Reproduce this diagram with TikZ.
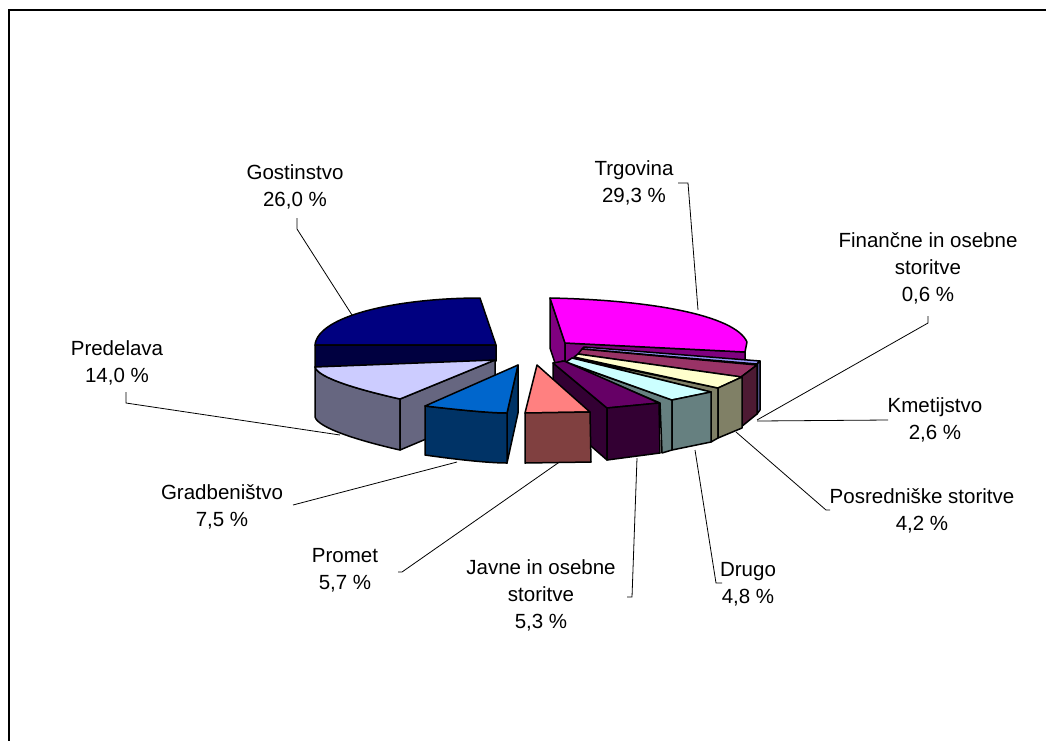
\documentclass[tikz,border=0pt]{standalone}
\usepackage{fontspec}
\setmainfont{Liberation Sans}
\definecolor{cGosT}{HTML}{000080}
\definecolor{cGosS}{HTML}{000040}
\definecolor{cPreT}{HTML}{CCCCFF}
\definecolor{cPreS}{HTML}{666680}
\definecolor{cGraT}{HTML}{0066CC}
\definecolor{cGraS}{HTML}{003366}
\definecolor{cProT}{HTML}{FF8080}
\definecolor{cProS}{HTML}{804040}
\definecolor{cJavT}{HTML}{660066}
\definecolor{cJavS}{HTML}{330033}
\definecolor{cDruT}{HTML}{CCFFFF}
\definecolor{cDruS}{HTML}{668080}
\definecolor{cPosT}{HTML}{FFFFCC}
\definecolor{cPosS}{HTML}{808066}
\definecolor{cKmeT}{HTML}{993366}
\definecolor{cKmeS}{HTML}{4D1A33}
\definecolor{cFinT}{HTML}{9999FF}
\definecolor{cFinS}{HTML}{4D4D80}
\definecolor{cTrgT}{HTML}{FF00FF}
\definecolor{cTrgS}{HTML}{800080}
\begin{document}
\begin{tikzpicture}[x=1pt,y=-1pt,
  slice/.style={draw=black,line width=1.5pt,line join=round},
  lead/.style={draw=black,line width=0.8pt},
  lbl/.style={align=center,font=\fontsize{20.5}{27}\selectfont,inner sep=0pt}]
\useasboundingbox (0,0) rectangle (1046,740);
\fill[white] (0,0) rectangle (1046,740);
\draw[line width=1.5pt] (9,10) rectangle (1070,770);

% Gostinstvo
\path[slice,fill=cGosT] (315,345) .. controls (318,315) and (400,298) .. (480,298) -- (496,345) -- cycle;
\path[slice,fill=cGosS] (315,345) -- (496,345) -- (496,361) -- (315,367) -- cycle;
% Predelava
\path[slice,fill=cPreS] (315,367) .. controls (318,378) and (360,390) .. (400,399) -- (400,450) .. controls (360,441) and (318,428) .. (315,417) -- cycle;
\path[slice,fill=cPreS] (400,399) -- (495,360) -- (495,410) -- (400,450) -- cycle;
\path[slice,fill=cPreT] (315,367) -- (495,360) -- (400,399) .. controls (360,390) and (318,378) .. (315,367) -- cycle;
% Trgovina
\path[slice,fill=cTrgS] (550,298) -- (565,343) -- (565,393) -- (550,348) -- cycle;
\path[slice,fill=cTrgS] (565,343) -- (745,352) -- (745,400) -- (565,393) -- cycle;
\path[slice,fill=cTrgT] (550,298) .. controls (650,300) and (735,315) .. (747,342) -- (745,352) -- (565,343) -- cycle;
% Financne
\path[slice,fill=cFinT] (582,349) -- (757,364) -- (760,361) -- (584,347) -- cycle;
\path[slice,fill=cFinS] (757,364) -- (760,361) -- (760,410) -- (757,414) -- cycle;
% Kmetijstvo
\path[slice,fill=cKmeT] (578,354) -- (741,377) -- (757,365) -- (582,349) -- cycle;
\path[slice,fill=cKmeS] (741,377) -- (757,365) -- (757,414) -- (741,427) -- cycle;
% Posredniske
\path[slice,fill=cPosS] (572,358) -- (711,392) -- (711,442) -- (718,438) -- (718,388) -- cycle;
\path[slice,fill=cPosT] (574,357) -- (718,388) -- (742,377) -- (578,354) -- cycle;
\path[slice,fill=cPosS] (718,388) -- (742,377) -- (742,428) -- (718,438) -- cycle;
% Drugo
\path[slice,fill=cDruS] (562,361) -- (660,403) -- (662,453) -- (672,450) -- (672,400) -- cycle;
\path[slice,fill=cDruT] (566,362) -- (672,400) -- (711,392) -- (572,358) -- cycle;
\path[slice,fill=cDruS] (672,400) -- (711,392) -- (711,442) -- (672,450) -- cycle;
% Javne
\path[slice,fill=cJavS] (553,363) -- (607,408) -- (607,460) -- (553,413) -- cycle;
\path[slice,fill=cJavT] (553,363) -- (607,408) -- (659,403) -- (564,361) -- cycle;
\path[slice,fill=cJavS] (607,408) -- (659,403) -- (660,453) -- (607,460) -- cycle;
% Promet
\path[slice,fill=cProT] (537,365) -- (525,413) -- (590,412) -- cycle;
\path[slice,fill=cProS] (525,413) -- (590,412) -- (591,462) -- (525,463) -- cycle;
% Gradbenistvo
\path[slice,fill=cGraS] (507,413) -- (518,365) -- (518,413) -- (507,463) -- cycle;
\path[slice,fill=cGraS] (425,406) .. controls (460,410) and (490,413) .. (507,413) -- (507,463) .. controls (490,463) and (460,460) .. (425,455) -- cycle;
\path[slice,fill=cGraT] (425,406) -- (518,365) -- (507,413) .. controls (490,413) and (460,410) .. (425,406) -- cycle;

% labels
\node[lbl] (lGos) at (295,187) {Gostinstvo\\26,0 \%};
\node[lbl] (lTrg) at (634,183) {Trgovina\\29,3 \%};
\node[lbl] (lFin) at (928,268) {Finančne in osebne\\storitve\\0,6 \%};
\node[lbl] (lKme) at (935,420) {Kmetijstvo\\2,6 \%};
\node[lbl] (lPos) at (922,511) {Posredniške storitve\\4,2 \%};
\node[lbl] (lDru) at (748,584) {Drugo\\4,8 \%};
\node[lbl] (lJav) at (541,595) {Javne in osebne\\storitve\\5,3 \%};
\node[lbl] (lPro) at (345,570) {Promet\\5,7 \%};
\node[lbl] (lGra) at (222,507) {Gradbeništvo\\7,5 \%};
\node[lbl] (lPre) at (117,363) {Predelava\\14,0 \%};

% leader coordinates
\coordinate (gA) at (297,218); \coordinate (gB) at (297,229); \coordinate (gC) at (352,315);
\coordinate (tA) at (678,183); \coordinate (tB) at (688,183); \coordinate (tC) at (698,310);
\coordinate (fA) at (928,316); \coordinate (fB) at (928,323); \coordinate (fC) at (757,420);
\coordinate (kA) at (888,420); \coordinate (kC) at (757,421);
\coordinate (pA) at (830,510); \coordinate (pB) at (826,510); \coordinate (pC) at (736,432);
\coordinate (dA) at (722,583); \coordinate (dB) at (716,583); \coordinate (dC) at (695,450);
\coordinate (jA) at (627,597); \coordinate (jB) at (632,597); \coordinate (jC) at (637,458);
\coordinate (rA) at (398,572); \coordinate (rB) at (402,572); \coordinate (rC) at (558,463);
\coordinate (bA) at (293,505); \coordinate (bC) at (457,462);
\coordinate (eA) at (126,392); \coordinate (eB) at (126,403); \coordinate (eC) at (340,435);

\draw[lead] (gA) -- (gB) -- (gC);
\draw[lead] (tA) -- (tB) -- (tC);
\draw[lead] (fA) -- (fB) -- (fC);
\draw[lead] (kA) -- (kC);
\draw[lead] (pA) -- (pB) -- (pC);
\draw[lead] (dA) -- (dB) -- (dC);
\draw[lead] (jA) -- (jB) -- (jC);
\draw[lead] (rA) -- (rB) -- (rC);
\draw[lead] (bA) -- (bC);
\draw[lead] (eA) -- (eB) -- (eC);
\end{tikzpicture}
\end{document}
